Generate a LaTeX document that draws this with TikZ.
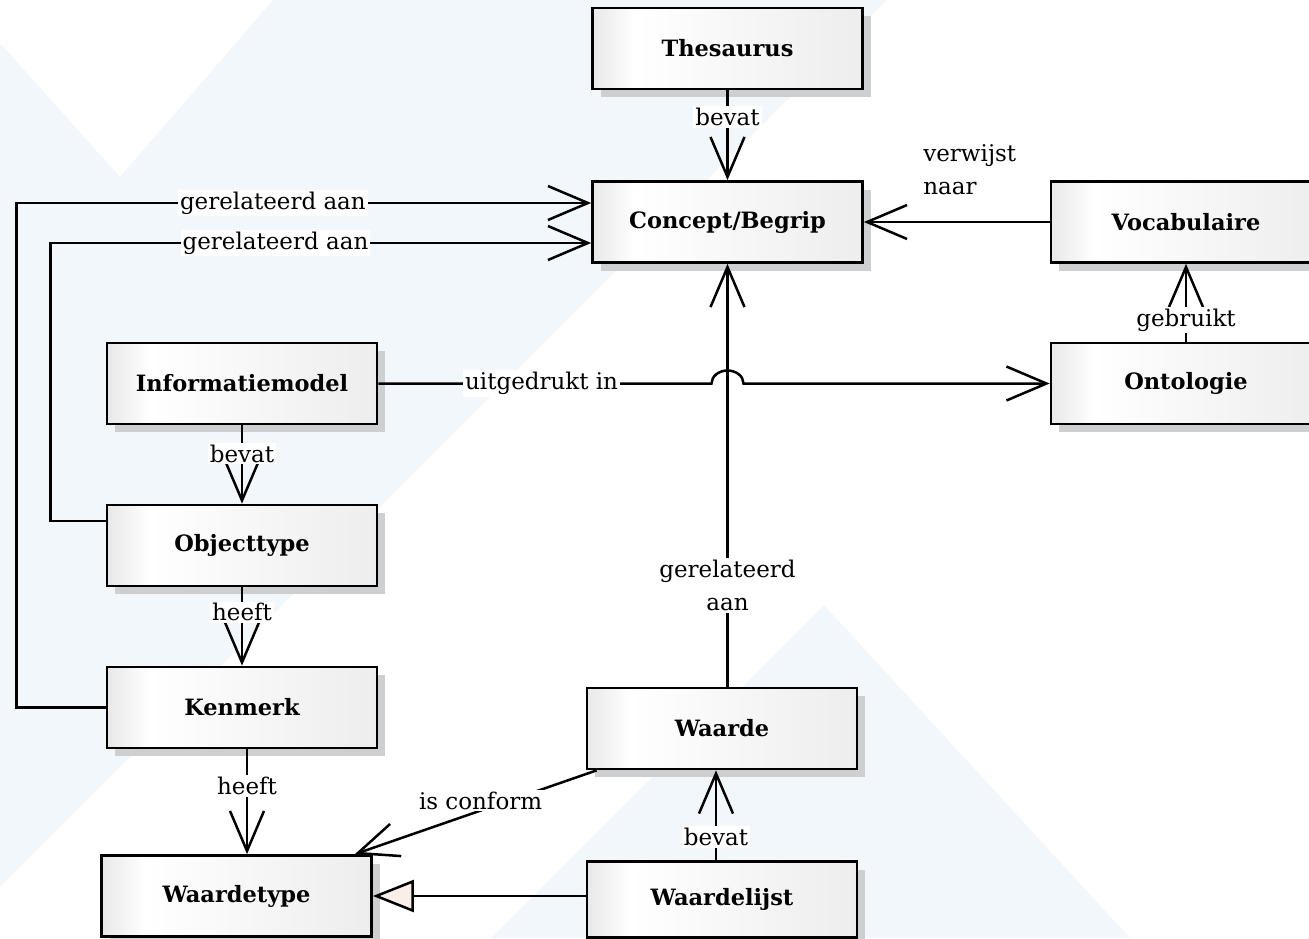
\documentclass[tikz,border=0pt]{standalone}
\usepackage{fontspec}
\setmainfont{DejaVu Serif}
\usetikzlibrary{positioning, arrows.meta, shadows}

\definecolor{bgblue}{RGB}{242,247,252}
\definecolor{shadowgray}{RGB}{205,207,209}
\definecolor{genfill}{RGB}{248,239,234}
\pgfdeclarehorizontalshading{classfill}{100bp}{%
	color(0bp)=(black!9); color(25bp)=(black!9); color(33bp)=(white);
	color(75bp)=(black!7); color(100bp)=(black!7)}

\tikzset{
	x=1pt, y=-1pt,
	node distance=162pt,
	class/.style={draw, line width=2.7pt, shading=classfill,
		minimum width=270pt, minimum height=81pt,
		font=\fontsize{22.5}{27}\selectfont\bfseries,
		drop shadow={shadow xshift=8pt, shadow yshift=-8pt, fill=shadowgray, opacity=1}},
	assoc/.style={line width=2.5pt, -{Straight Barb[length=40pt, width=34pt]}},
	gen/.style={line width=2.5pt, -{Triangle[length=41pt, width=32pt, fill=genfill]}},
	lbl/.style={fill=white, inner sep=2pt, align=center, font=\fontsize{23}{33}\selectfont},
	baseline}

\begin{document}
\begin{tikzpicture}

	\useasboundingbox (0,0) rectangle (1309,938);
	% achtergrond
	\fill[bgblue] (0,43) -- (120,177) -- (273,0) -- (887,0) -- (0,887) -- cycle;
	\fill[bgblue] (824,605) -- (491,938) -- (1130,938) -- cycle;

	\node[class] (concept) at (727.5,222) {Concept/Begrip};
	\node[class, above of=concept, node distance=173.5pt] (thesaurus) {Thesaurus};
	\node[class, right of=concept, node distance=458.5pt] (vocab) {Vocabulaire};
	\node[class, below of=vocab, node distance=161.5pt] (ontologie) {Ontologie};
	\node[class] (infomodel) at (242,383.5) {Informatiemodel};
	\node[class, below of=infomodel] (objecttype) {Objecttype};
	\node[class, below of=objecttype] (kenmerk) {Kenmerk};
	\node[class] (waardetype) at (236.5,896) {Waardetype};
	\node[class] (waarde) at (722,728.5) {Waarde};
	\node[class, minimum height=76pt, below of=waarde, node distance=171pt] (waardelijst) {Waardelijst};

	\draw[assoc] (thesaurus) -- node[lbl, pos=.3] {bevat} (concept);
	\draw[assoc] (kenmerk.west) -- ++(-89,0) |- node[lbl, pos=.723] {gerelateerd aan} ([yshift=19pt]concept.west);
	\draw[assoc] ([yshift=24.5pt]objecttype.west) -- ++(-55,0) |- node[lbl, pos=.708] {gerelateerd aan} ([yshift=-21pt]concept.west);
	\draw[assoc] (vocab) -- node[pos=.43, above=23pt, align=left, font=\fontsize{23}{33}\selectfont] {verwijst\\naar} (concept);
	\draw[assoc] (ontologie) -- node[lbl, pos=.28] {gebruikt} (vocab);
	\draw[assoc] (concept.south |- waarde.north) -- node[lbl, pos=.24] {gerelateerd\\aan} (concept.south);

	% kruising met sprongetje
	\coordinate (hop) at (concept.south |- infomodel.east);
	\draw[assoc] (infomodel.east) -- node[lbl, pos=.49] {uitgedrukt in} ([xshift=-16pt]hop)
		arc[start angle=180, end angle=0, x radius=16pt, y radius=13pt] -- (ontologie.west);

	\draw[assoc] (infomodel) -- node[lbl, pos=.36] {bevat} (objecttype);
	\draw[assoc] (objecttype) -- node[lbl, pos=.32] {heeft} (kenmerk);
	\draw[assoc] ([xshift=5pt]kenmerk.south) -- node[lbl, pos=.35] {heeft} ([xshift=5pt]kenmerk.south |- waardetype.north);
	\draw[assoc] ([xshift=11pt]waarde.south west) -- node[lbl, pos=.48, yshift=10pt] {is conform} ([xshift=-18pt]waardetype.north east);
	\draw[assoc] ([xshift=-6pt]waardelijst.north) -- node[lbl, pos=.26] {bevat} ([xshift=-6pt]waarde.south);
	\draw[gen] (waardelijst.west |- waardetype.east) -- (waardetype.east);

\end{tikzpicture}
\end{document}
